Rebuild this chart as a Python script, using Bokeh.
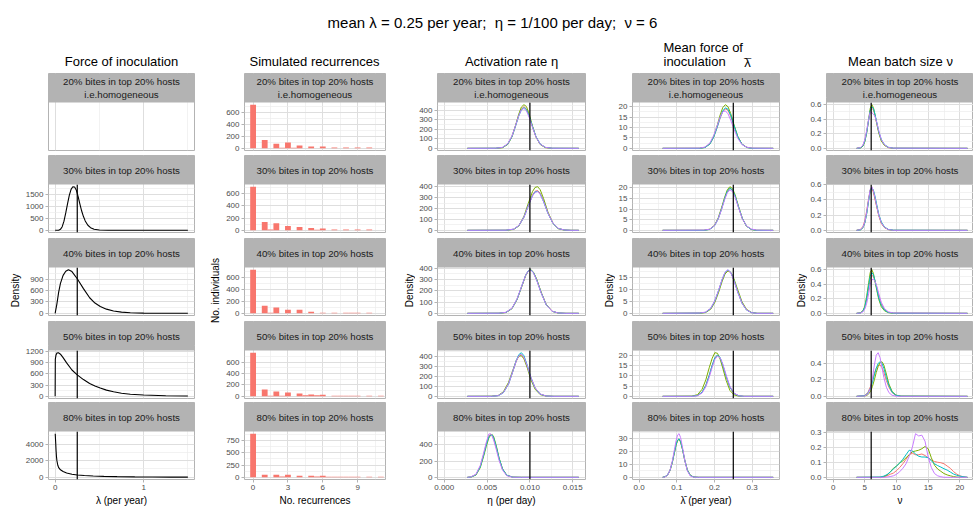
import math
from bokeh.plotting import figure
from bokeh.layouts import column, row
from bokeh.models import Range1d, FixedTicker, Grid, Label, LinearAxis
from bokeh.embed import file_html
from bokeh.resources import INLINE
from bokeh.core.properties import value

FONT = "Liberation Sans"

# ---------------- texts ----------------
MAIN_TITLE = "mean λ = 0.25 per year;\u00a0\u00a0η = 1/100 per day;\u00a0\u00a0ν = 6"
COL_TITLES = ["Force of inoculation", "Simulated recurrences", "Activation rate η", "", "Mean batch size ν"]
COL4_TITLE_LINES = ["Mean force of", "inoculation", "λ", "¯"]
STRIPS = ["20% bites in top 20% hosts\ni.e.homogeneous",
          "30% bites in top 20% hosts",
          "40% bites in top 20% hosts",
          "50% bites in top 20% hosts",
          "80% bites in top 20% hosts"]
X_LABELS = ["λ (per year)", "No. recurrences", "η (per day)", "λ\u0304 (per year)", "ν"]
Y_LABELS = ["Density", "No. individuals", "Density", "Density", "Density"]
VLINES = [0.25, None, 0.010, 0.25, 6]
CHAIN_COLORS = ["#F8766D", "#7CAE00", "#00BFC4", "#C77CFF"]
BAR_COLOR = "#F8766D"

# ---------------- x axis ticks ----------------
X_LIMITS = [(0, 1.5), None, (0, 0.0157), (0, 0.355), (0, 21.1)]
X2_RANGE = (-0.74, 11.4)
X_TICKS = [[0, 1], [0, 3, 6, 9], [0, 0.005, 0.010, 0.015], [0, 0.1, 0.2, 0.3], [0, 5, 10, 15, 20]]
X_TICK_LABELS = [["0", "1"], ["0", "3", "6", "9"], ["0.000", "0.005", "0.010", "0.015"],
                 ["0.0", "0.1", "0.2", "0.3"], ["0", "5", "10", "15", "20"]]
X_MINOR = [[0.5, 1.5], [1.5, 4.5, 7.5, 10.5], [0.0025, 0.0075, 0.0125], [0.05, 0.15, 0.25, 0.35],
           [2.5, 7.5, 12.5, 17.5]]

# ---------------- column 1: force of inoculation ----------------
FOI_X_30 = [0, 0.04, 0.06, 0.08, 0.10, 0.12, 0.14, 0.16, 0.18, 0.20, 0.22, 0.24, 0.26, 0.28, 0.30, 0.32, 0.34, 0.37, 0.40, 0.44, 0.50, 0.60, 1.50]
FOI_Y_30 = [0, 5, 40, 150, 380, 720, 1100, 1450, 1700, 1810, 1800, 1660, 1400, 1090, 800, 570, 390, 210, 110, 45, 12, 2, 0]
FOI_X_40 = [0, 0.02, 0.04, 0.06, 0.09, 0.12, 0.15, 0.19, 0.25, 0.32, 0.39, 0.45, 0.51, 0.58, 0.66, 0.75, 0.85, 1.0, 1.2, 1.5]
FOI_Y_40 = [0, 250, 560, 790, 1000, 1110, 1150, 1100, 910, 650, 410, 270, 180, 110, 60, 32, 16, 5, 1, 0]
FOI_X_50 = [0, 0.002, 0.01, 0.02, 0.037, 0.06, 0.09, 0.13, 0.19, 0.25, 0.32, 0.39, 0.45, 0.51, 0.58, 0.66, 0.75, 0.85, 1.0, 1.25, 1.5]
FOI_Y_50 = [0, 980, 1100, 1150, 1160, 1120, 1030, 890, 700, 570, 445, 340, 275, 220, 165, 120, 80, 55, 35, 17, 9]
FOI_X_80 = [0.001, 0.004, 0.007, 0.01, 0.015, 0.02, 0.03, 0.04, 0.06, 0.09, 0.13, 0.19, 0.25, 0.33, 0.43, 0.55, 0.7, 0.9, 1.1, 1.3, 1.5]
FOI_Y_80 = [5240, 4600, 4000, 3300, 2500, 2000, 1450, 1170, 900, 700, 520, 370, 280, 210, 158, 115, 80, 52, 38, 27, 20]

# ---------------- column 2: simulated recurrences ----------------
REC_X = [0, 0.5, 1, 1.5, 2, 2.5, 3, 3.5, 4, 4.5, 5, 5.5, 6, 6.5, 7, 7.5, 8, 8.5, 9, 9.5, 10, 10.5, 11]
REC_20 = [729, 0, 140, 0, 76, 8, 97, 8, 47, 0, 32, 0, 30, 0, 15, 0, 14, 0, 14, 0, 14, 0, 0]
REC_30 = [716, 0, 135, 12, 118, 0, 70, 0, 55, 0, 38, 10, 28, 0, 14, 0, 14, 0, 14, 0, 14, 0, 0]
REC_40 = [724, 0, 124, 11, 97, 0, 59, 0, 59, 0, 27, 0, 11, 0, 8, 0, 8, 8, 8, 0, 8, 0, 0]
REC_50 = [765, 0, 119, 11, 85, 11, 68, 0, 51, 17, 34, 17, 28, 0, 11, 11, 11, 11, 11, 0, 11, 0, 11]
REC_80 = [888, 0, 52, 0, 52, 18, 52, 0, 33, 0, 33, 18, 33, 12, 12, 12, 12, 12, 12, 0, 12, 0, 12]

# ---------------- column 3: activation rate eta (4 chains: R, G, C, P) ----------------
ETA_X_20 = [0.0027, 0.0060, 0.0068, 0.0074, 0.0079, 0.0083, 0.0087, 0.0090, 0.0093, 0.0096, 0.0099, 0.0103, 0.0107, 0.0112, 0.0118, 0.0126, 0.0157]
ETA_20_R = [0, 0, 9, 45, 125, 232, 350, 415, 440, 415, 345, 228, 122, 43, 9, 0, 0]
ETA_20_G = [0, 0, 6, 40, 120, 235, 360, 435, 460, 440, 365, 235, 120, 40, 7, 0, 0]
ETA_20_C = [0, 1, 9, 44, 122, 228, 342, 405, 430, 408, 345, 230, 125, 45, 10, 1, 0]
ETA_20_P = [0, 1, 10, 47, 128, 233, 345, 405, 420, 395, 330, 222, 120, 44, 10, 1, 0]
ETA_X_30 = [0.0027, 0.0072, 0.0081, 0.0087, 0.0093, 0.0098, 0.0103, 0.0106, 0.0109, 0.0112, 0.0116, 0.0121, 0.0127, 0.0133, 0.0140, 0.0148, 0.0157]
ETA_30_R = [0, 1, 10, 42, 120, 225, 322, 358, 365, 340, 268, 160, 64, 18, 3, 0, 0]
ETA_30_G = [0, 0, 8, 40, 128, 245, 355, 393, 400, 372, 290, 168, 62, 15, 2, 0, 0]
ETA_30_C = [0, 1, 10, 42, 120, 222, 318, 352, 358, 333, 262, 156, 62, 17, 3, 0, 0]
ETA_30_P = [0, 1, 11, 44, 121, 222, 315, 348, 355, 330, 262, 158, 63, 18, 3, 0, 0]
ETA_X_40 = [0.0027, 0.0064, 0.0072, 0.0079, 0.0085, 0.0090, 0.0095, 0.0098, 0.0101, 0.0104, 0.0108, 0.0113, 0.0119, 0.0126, 0.0133, 0.0142, 0.0157]
ETA_40_R = [0, 1, 8, 44, 125, 230, 336, 375, 386, 365, 297, 187, 78, 19, 3, 0, 0]
ETA_40_G = [0, 0, 7, 41, 122, 228, 335, 376, 388, 368, 302, 190, 78, 17, 2, 0, 0]
ETA_40_C = [0, 1, 8, 43, 125, 232, 338, 377, 387, 365, 296, 185, 76, 18, 3, 0, 0]
ETA_40_P = [0, 1, 9, 45, 128, 234, 338, 376, 384, 361, 292, 183, 76, 18, 3, 0, 0]
ETA_X_50 = [0.0027, 0.0055, 0.0063, 0.0069, 0.0075, 0.0080, 0.0084, 0.0087, 0.0090, 0.0093, 0.0097, 0.0101, 0.0106, 0.0112, 0.0119, 0.0128, 0.0157]
ETA_50_R = [0, 0, 7, 38, 125, 250, 352, 405, 420, 390, 300, 190, 85, 22, 3, 0, 0]
ETA_50_G = [0, 1, 9, 45, 140, 262, 360, 405, 410, 378, 285, 170, 72, 17, 2, 0, 0]
ETA_50_C = [0, 0, 6, 36, 122, 250, 360, 420, 440, 410, 310, 192, 85, 22, 3, 0, 0]
ETA_50_P = [0, 0, 7, 38, 125, 252, 357, 410, 425, 395, 305, 192, 86, 23, 3, 0, 0]
ETA_X_80 = [0.0027, 0.0031, 0.0037, 0.0042, 0.0046, 0.0049, 0.0052, 0.0054, 0.0056, 0.0058, 0.0061, 0.0064, 0.0068, 0.0073, 0.0080, 0.0090, 0.0157]
ETA_80_R = [0, 3, 34, 135, 285, 410, 510, 530, 515, 465, 355, 228, 100, 24, 2, 0, 0]
ETA_80_G = [0, 2, 28, 118, 260, 380, 485, 520, 530, 495, 380, 240, 105, 26, 2, 0, 0]
ETA_80_C = [0, 3, 32, 128, 275, 400, 500, 522, 525, 480, 368, 236, 104, 26, 2, 0, 0]
ETA_80_P = [0, 4, 38, 145, 300, 430, 535, 540, 510, 450, 335, 210, 90, 20, 1, 0, 0]

# ---------------- column 4: mean force of inoculation ----------------
LBAR_X_20 = [0.0624, 0.160, 0.175, 0.188, 0.198, 0.207, 0.215, 0.222, 0.229, 0.236, 0.243, 0.252, 0.262, 0.273, 0.286, 0.300, 0.356]
LBAR_20_R = [0, 0, 0.5, 2.2, 5.5, 10, 14.5, 17.6, 19, 18.2, 15.5, 10.6, 5.5, 2.0, 0.5, 0, 0]
LBAR_20_G = [0, 0, 0.4, 2.2, 5.7, 10.8, 16, 19.6, 21, 20, 16.8, 11.3, 5.7, 2.0, 0.4, 0, 0]
LBAR_20_C = [0, 0, 0.4, 2.1, 5.4, 10, 14.7, 18, 19.5, 18.8, 16, 11, 5.6, 2.0, 0.4, 0, 0]
LBAR_20_P = [0, 0.1, 0.6, 2.6, 6.2, 10.8, 15, 17.6, 18, 16.6, 13.6, 9.2, 4.8, 1.8, 0.5, 0.1, 0]
LBAR_X_30 = [0.0624, 0.172, 0.187, 0.200, 0.210, 0.219, 0.227, 0.234, 0.241, 0.248, 0.255, 0.264, 0.274, 0.285, 0.298, 0.312, 0.356]
LBAR_30_R = [0, 0, 0.5, 2.2, 5.5, 10.2, 14.9, 18.2, 19.7, 18.8, 16, 10.8, 5.5, 2.0, 0.4, 0, 0]
LBAR_30_G = [0, 0, 0.5, 2.3, 5.8, 10.7, 15.5, 19, 20.5, 19.6, 16.6, 11.2, 5.7, 2.0, 0.4, 0, 0]
LBAR_30_C = [0, 0, 0.4, 2.1, 5.4, 10.1, 14.9, 18.3, 19.8, 19, 16.1, 10.9, 5.6, 2.0, 0.4, 0, 0]
LBAR_30_P = [0, 0.1, 0.5, 2.2, 5.4, 9.9, 14.4, 17.6, 19, 18.2, 15.5, 10.6, 5.5, 2.1, 0.6, 0.1, 0]
LBAR_X_40 = [0.0624, 0.160, 0.176, 0.190, 0.201, 0.211, 0.220, 0.228, 0.236, 0.244, 0.252, 0.262, 0.273, 0.285, 0.298, 0.313, 0.356]
LBAR_40_R = [0, 0.1, 0.4, 2.0, 5.1, 9.4, 13.8, 16.9, 18, 16.9, 13.8, 9.0, 4.4, 1.5, 0.3, 0, 0]
LBAR_40_G = [0, 0, 0.3, 1.7, 4.6, 8.8, 13.2, 16.5, 17.8, 17.1, 14.4, 9.8, 4.9, 1.7, 0.4, 0, 0]
LBAR_40_C = [0, 0.1, 0.4, 2.0, 5.2, 9.6, 14, 17.1, 18.2, 17.0, 13.8, 8.9, 4.3, 1.4, 0.3, 0, 0]
LBAR_40_P = [0, 0.1, 0.5, 2.1, 5.3, 9.7, 14.1, 17.2, 18.3, 16.9, 13.6, 8.8, 4.3, 1.5, 0.3, 0, 0]
LBAR_X_50 = [0.0624, 0.140, 0.155, 0.167, 0.177, 0.186, 0.194, 0.201, 0.208, 0.215, 0.222, 0.231, 0.241, 0.252, 0.264, 0.278, 0.356]
LBAR_50_R = [0, 0, 0.4, 2.0, 5.4, 10.3, 15.2, 18.7, 20, 18.7, 15.2, 9.6, 4.4, 1.4, 0.3, 0, 0]
LBAR_50_G = [0, 0.1, 0.8, 3.4, 8.0, 13.9, 18.6, 21.3, 21, 18.2, 13.8, 7.8, 2.9, 0.7, 0.1, 0, 0]
LBAR_50_C = [0, 0, 0.4, 2.0, 5.3, 10.2, 15.2, 18.8, 20.2, 18.9, 15.4, 9.8, 4.5, 1.4, 0.3, 0, 0]
LBAR_50_P = [0, 0, 0.3, 1.6, 4.6, 9.2, 14.2, 18.0, 19.6, 18.8, 15.8, 10.4, 4.9, 1.6, 0.3, 0, 0]
LBAR_X_80 = [0.0624, 0.068, 0.075, 0.082, 0.088, 0.093, 0.098, 0.102, 0.106, 0.110, 0.115, 0.121, 0.128, 0.136, 0.145, 0.158, 0.356]
LBAR_80_R = [0.1, 0.4, 1.8, 5.7, 12.0, 18.9, 25.6, 29.1, 30, 27.7, 21.8, 13.2, 5.5, 1.4, 0.2, 0, 0]
LBAR_80_G = [0, 0.3, 1.5, 5.2, 11.4, 18.3, 25, 28.6, 29.5, 27.5, 22, 13.6, 5.8, 1.5, 0.2, 0, 0]
LBAR_80_C = [0.1, 0.4, 1.7, 5.5, 11.8, 18.7, 25.4, 29, 30, 27.8, 22, 13.4, 5.6, 1.4, 0.2, 0, 0]
LBAR_80_P = [0, 0.2, 1.5, 5.5, 12.5, 20.5, 28.5, 33, 34, 31, 23.5, 13.5, 5.0, 1.0, 0.1, 0, 0]

# ---------------- column 5: mean batch size nu ----------------
NU_X_20 = [3.7, 4.3, 4.7, 5.0, 5.3, 5.6, 5.85, 6.1, 6.35, 6.6, 6.9, 7.2, 7.6, 8.1, 8.7, 9.5, 21.2]
NU_20_R = [0, 0.008, 0.04, 0.11, 0.23, 0.39, 0.51, 0.55, 0.53, 0.45, 0.34, 0.22, 0.11, 0.045, 0.012, 0.002, 0]
NU_20_G = [0, 0.005, 0.03, 0.09, 0.22, 0.40, 0.55, 0.60, 0.56, 0.46, 0.33, 0.21, 0.10, 0.04, 0.01, 0, 0]
NU_20_C = [0, 0.006, 0.035, 0.10, 0.22, 0.39, 0.52, 0.57, 0.55, 0.47, 0.35, 0.23, 0.12, 0.05, 0.015, 0.002, 0]
NU_20_P = [0, 0.01, 0.045, 0.12, 0.25, 0.40, 0.50, 0.49, 0.47, 0.44, 0.35, 0.24, 0.12, 0.05, 0.012, 0.002, 0]
NU_X_30 = [3.7, 4.3, 4.7, 5.0, 5.3, 5.6, 5.85, 6.1, 6.35, 6.6, 6.9, 7.2, 7.6, 8.1, 8.7, 9.5, 21.2]
NU_30_R = [0, 0.012, 0.05, 0.13, 0.26, 0.42, 0.53, 0.55, 0.50, 0.41, 0.30, 0.19, 0.09, 0.035, 0.01, 0, 0]
NU_30_G = [0, 0.006, 0.035, 0.10, 0.23, 0.40, 0.53, 0.56, 0.52, 0.43, 0.31, 0.20, 0.10, 0.04, 0.01, 0, 0]
NU_30_C = [0, 0.006, 0.035, 0.10, 0.22, 0.39, 0.52, 0.56, 0.53, 0.45, 0.33, 0.21, 0.11, 0.045, 0.012, 0.002, 0]
NU_30_P = [0, 0.008, 0.04, 0.11, 0.24, 0.41, 0.54, 0.575, 0.52, 0.43, 0.31, 0.20, 0.10, 0.04, 0.01, 0, 0]
NU_X_40 = [3.7, 4.3, 4.7, 5.0, 5.3, 5.6, 5.85, 6.1, 6.35, 6.6, 6.9, 7.2, 7.6, 8.1, 8.7, 9.5, 21.2]
NU_40_R = [0, 0.005, 0.03, 0.08, 0.19, 0.34, 0.47, 0.52, 0.51, 0.45, 0.35, 0.24, 0.13, 0.055, 0.015, 0.003, 0]
NU_40_G = [0, 0.006, 0.035, 0.10, 0.24, 0.42, 0.56, 0.60, 0.55, 0.44, 0.31, 0.19, 0.09, 0.035, 0.01, 0, 0]
NU_40_C = [0, 0.005, 0.03, 0.09, 0.21, 0.38, 0.51, 0.56, 0.53, 0.45, 0.33, 0.21, 0.11, 0.045, 0.012, 0.002, 0]
NU_40_P = [0, 0.004, 0.02, 0.06, 0.14, 0.27, 0.40, 0.46, 0.47, 0.44, 0.37, 0.27, 0.15, 0.065, 0.02, 0.004, 0]
NU_X_50 = [3.7, 5.0, 5.5, 5.9, 6.2, 6.5, 6.8, 7.1, 7.4, 7.7, 8.0, 8.4, 8.8, 9.3, 9.9, 10.7, 21.2]
NU_50_R = [0, 0.01, 0.05, 0.12, 0.20, 0.28, 0.34, 0.375, 0.38, 0.35, 0.29, 0.19, 0.11, 0.045, 0.012, 0.002, 0]
NU_50_G = [0, 0.004, 0.02, 0.06, 0.12, 0.20, 0.29, 0.36, 0.41, 0.42, 0.38, 0.27, 0.15, 0.06, 0.015, 0.002, 0]
NU_50_C = [0, 0.008, 0.04, 0.10, 0.17, 0.26, 0.34, 0.40, 0.42, 0.40, 0.34, 0.23, 0.13, 0.05, 0.013, 0.002, 0]
NU_50_P = [0, 0.005, 0.03, 0.10, 0.22, 0.38, 0.50, 0.53, 0.47, 0.35, 0.23, 0.11, 0.045, 0.012, 0.002, 0, 0]
NU_X_80 = [3.7, 7.4, 8.0, 8.5, 9.0, 9.5, 10.0, 10.5, 11.0, 11.5, 12.0, 12.5, 13.0, 13.5, 14.0, 14.5, 15.0, 15.5, 16.0, 16.5, 17.0, 17.5, 18.0, 18.5, 19.0, 19.5, 20.0, 20.5, 21.2]
NU_80_R = [0, 0, 0.003, 0.01, 0.02, 0.028, 0.045, 0.065, 0.09, 0.12, 0.15, 0.16, 0.15, 0.15, 0.155, 0.145, 0.13, 0.115, 0.105, 0.10, 0.097, 0.09, 0.075, 0.06, 0.038, 0.022, 0.01, 0.004, 0]
NU_80_G = [0, 0, 0.005, 0.015, 0.035, 0.06, 0.075, 0.095, 0.11, 0.13, 0.15, 0.17, 0.175, 0.18, 0.19, 0.205, 0.19, 0.13, 0.08, 0.055, 0.04, 0.025, 0.016, 0.01, 0.005, 0.002, 0, 0, 0]
NU_80_C = [0, 0.002, 0.008, 0.018, 0.035, 0.055, 0.075, 0.095, 0.12, 0.15, 0.18, 0.175, 0.155, 0.14, 0.135, 0.135, 0.13, 0.11, 0.09, 0.078, 0.068, 0.057, 0.048, 0.035, 0.022, 0.014, 0.008, 0.004, 0]
NU_80_P = [0, 0, 0, 0.002, 0.005, 0.01, 0.02, 0.037, 0.06, 0.09, 0.14, 0.2, 0.29, 0.275, 0.28, 0.24, 0.135, 0.065, 0.025, 0.01, 0.004, 0, 0, 0, 0, 0, 0, 0, 0]

# ---------------- y axis ticks per panel [col][row] ----------------
Y_TICKS = [
    [[], [0, 500, 1000, 1500], [0, 300, 600, 900], [0, 300, 600, 900, 1200], [0, 2000, 4000]],
    [[0, 200, 400, 600]] * 4 + [[0, 250, 500, 750]],
    [[0, 100, 200, 300, 400]] * 4 + [[0, 200, 400]],
    [[0, 5, 10, 15, 20], [0, 5, 10, 15, 20], [0, 5, 10, 15], [0, 5, 10, 15, 20], [0, 10, 20, 30]],
    [[0, 0.2, 0.4, 0.6]] * 3 + [[0, 0.2, 0.4], [0, 0.1, 0.2, 0.3]],
]
Y_TICK_LABELS = [
    [[], ["0", "500", "1000", "1500"], ["0", "300", "600", "900"], ["0", "300", "600", "900", "1200"], ["0", "2000", "4000"]],
    [["0", "200", "400", "600"]] * 4 + [["0", "250", "500", "750"]],
    [["0", "100", "200", "300", "400"]] * 4 + [["0", "200", "400"]],
    [["0", "5", "10", "15", "20"], ["0", "5", "10", "15", "20"], ["0", "5", "10", "15"], ["0", "5", "10", "15", "20"], ["0", "10", "20", "30"]],
    [["0.0", "0.2", "0.4", "0.6"]] * 3 + [["0.0", "0.2", "0.4"], ["0.0", "0.1", "0.2", "0.3"]],
]
Y_MINOR = [
    [[], [250, 750, 1250, 1750], [150, 450, 750, 1050], [150, 450, 750, 1050, 1350], [1000, 3000, 5000]],
    [[100, 300, 500, 700]] * 4 + [[125, 375, 625, 875]],
    [[50, 150, 250, 350, 450]] * 4 + [[100, 300, 500]],
    [[2.5, 7.5, 12.5, 17.5, 22.5], [2.5, 7.5, 12.5, 17.5, 22.5], [2.5, 7.5, 12.5, 17.5], [2.5, 7.5, 12.5, 17.5, 22.5], [5, 15, 25, 35]],
    [[0.1, 0.3, 0.5, 0.7]] * 3 + [[0.1, 0.3, 0.5], [0.05, 0.15, 0.25, 0.35]],
]

# ---------------- layout (pixels) ----------------
LABEL_W = [22, 25, 25, 25, 22]       # strip holding the y-axis title
LABEL_X = [15, 17, 19, 19, 16]       # centre of y-axis title inside that strip
PANEL_LEFT = [26, 20, 22, 17, 19]    # room for tick labels
COL_FRAME = [146, 142, 148, 147, 147]
COL_RIGHT = [4, 5, 5, 6, 0]
ROW_H = [82, 83, 83, 81, 106]
HEADER_H = 73
BODY_H = 435
YLAB_Y = 218
FRAME_H = 77
STRIP_PX = 29
PANEL_PX = 48
COL_TITLE_X = [121, 314, 511, None, 900]

STRIP_FILL = "#B3B3B3"
BORDER = "#B3B3B3"
GRID_MAJ = "#DEDEDE"
GRID_MIN = "#EDEDED"
TICK_COL = "#B3B3B3"
TICK_TXT = "#4D4D4D"


def padded(lo, hi):
    d = hi - lo
    return lo - 0.05 * d, hi + 0.05 * d


def make_panel(ci, ri, xr, yr):
    x_lo, x_hi = xr
    y_lo, y_hi = yr
    y_top = y_hi + (y_hi - y_lo) * STRIP_PX / PANEL_PX
    last = ri == 4
    p = figure(width=PANEL_LEFT[ci] + COL_FRAME[ci] + COL_RIGHT[ci], height=ROW_H[ri],
               x_range=Range1d(x_lo, x_hi), y_range=Range1d(y_lo, y_top),
               x_axis_type=None, y_axis_type=None, title=None,
               toolbar_location=None, output_backend="svg",
               min_border_left=PANEL_LEFT[ci], min_border_right=COL_RIGHT[ci],
               min_border_top=0, min_border_bottom=ROW_H[ri] - FRAME_H)
    p.outline_line_color = BORDER
    p.outline_line_width = 1
    p.background_fill_color = "white"
    p.border_fill_color = "white"

    p.add_layout(Grid(dimension=0, ticker=FixedTicker(ticks=X_TICKS[ci], minor_ticks=X_MINOR[ci]),
                      grid_line_color=GRID_MAJ, grid_line_width=1,
                      minor_grid_line_color=GRID_MIN, minor_grid_line_width=0.7))
    yt = [t for t in Y_TICKS[ci][ri] if t <= y_hi]
    ylab = Y_TICK_LABELS[ci][ri][:len(yt)]
    if yt:
        p.add_layout(Grid(dimension=1, ticker=FixedTicker(ticks=yt, minor_ticks=Y_MINOR[ci][ri]),
                          grid_line_color=GRID_MAJ, grid_line_width=1,
                          minor_grid_line_color=GRID_MIN, minor_grid_line_width=0.7))
    ya = LinearAxis(ticker=FixedTicker(ticks=yt), major_label_overrides=dict(zip(yt, ylab)),
                    axis_line_color=None, major_tick_line_color=TICK_COL, major_tick_out=3,
                    major_tick_in=0, minor_tick_line_color=None,
                    major_label_text_font=FONT, major_label_text_font_size="8px",
                    major_label_text_color=TICK_TXT, major_label_standoff=2)
    p.add_layout(ya, "left")
    if last:
        xa = LinearAxis(ticker=FixedTicker(ticks=X_TICKS[ci]),
                        major_label_overrides=dict(zip(X_TICKS[ci], X_TICK_LABELS[ci])),
                        axis_line_color=None, major_tick_line_color=TICK_COL, major_tick_out=3,
                        major_tick_in=0, minor_tick_line_color=None,
                        major_label_text_font=FONT, major_label_text_font_size="8px",
                        major_label_text_color=TICK_TXT, major_label_standoff=2,
                        axis_label=X_LABELS[ci], axis_label_text_font=FONT,
                        axis_label_text_font_size="10px", axis_label_text_font_style="normal",
                        axis_label_text_color="black", axis_label_standoff=2)
        p.add_layout(xa, "below")
    return p, (x_lo, x_hi, y_lo, y_hi, y_top)


def finish(p, geo, ri, vline):
    x_lo, x_hi, y_lo, y_hi, y_top = geo
    if vline is not None:
        p.segment(x0=[vline], y0=[y_lo], x1=[vline], y1=[y_hi], line_color="black", line_width=1.2)
    p.quad(left=[x_lo], right=[x_hi], bottom=[y_hi], top=[y_top], fill_color=STRIP_FILL, line_color=None)
    p.text(x=[(x_lo + x_hi) / 2], y=[(y_hi + y_top) / 2], text=[STRIPS[ri]],
           text_font=value(FONT), text_font_size="9.7px", text_align="center",
           text_baseline="middle", text_color="#1A1A1A", text_line_height=1.1)


def ylabel_fig(ci):
    f = figure(width=LABEL_W[ci], height=BODY_H, x_range=Range1d(0, LABEL_W[ci]),
               y_range=Range1d(0, BODY_H), x_axis_type=None, y_axis_type=None, title=None,
               toolbar_location=None, output_backend="svg", min_border=0)
    f.outline_line_color = None
    f.add_layout(Label(x=LABEL_X[ci], y=YLAB_Y, text=Y_LABELS[ci], angle=math.pi / 2,
                       text_align="center", text_baseline="middle", text_font=FONT,
                       text_font_size="10px", text_color="black"))
    return f


FOI_SERIES = [None, (FOI_X_30, FOI_Y_30), (FOI_X_40, FOI_Y_40), (FOI_X_50, FOI_Y_50), (FOI_X_80, FOI_Y_80)]
REC_SERIES = [REC_20, REC_30, REC_40, REC_50, REC_80]
ETA_SERIES = [(ETA_X_20, [ETA_20_R, ETA_20_G, ETA_20_C, ETA_20_P]),
              (ETA_X_30, [ETA_30_R, ETA_30_G, ETA_30_C, ETA_30_P]),
              (ETA_X_40, [ETA_40_R, ETA_40_G, ETA_40_C, ETA_40_P]),
              (ETA_X_50, [ETA_50_R, ETA_50_G, ETA_50_C, ETA_50_P]),
              (ETA_X_80, [ETA_80_R, ETA_80_G, ETA_80_C, ETA_80_P])]
LBAR_SERIES = [(LBAR_X_20, [LBAR_20_R, LBAR_20_G, LBAR_20_C, LBAR_20_P]),
               (LBAR_X_30, [LBAR_30_R, LBAR_30_G, LBAR_30_C, LBAR_30_P]),
               (LBAR_X_40, [LBAR_40_R, LBAR_40_G, LBAR_40_C, LBAR_40_P]),
               (LBAR_X_50, [LBAR_50_R, LBAR_50_G, LBAR_50_C, LBAR_50_P]),
               (LBAR_X_80, [LBAR_80_R, LBAR_80_G, LBAR_80_C, LBAR_80_P])]
NU_SERIES = [(NU_X_20, [NU_20_R, NU_20_G, NU_20_C, NU_20_P]),
             (NU_X_30, [NU_30_R, NU_30_G, NU_30_C, NU_30_P]),
             (NU_X_40, [NU_40_R, NU_40_G, NU_40_C, NU_40_P]),
             (NU_X_50, [NU_50_R, NU_50_G, NU_50_C, NU_50_P]),
             (NU_X_80, [NU_80_R, NU_80_G, NU_80_C, NU_80_P])]

cols = [[] for _ in range(5)]
for ri in range(5):
    # column 1
    xr = padded(*X_LIMITS[0])
    s = FOI_SERIES[ri]
    yr = padded(0, max(s[1])) if s else (0, 1)
    p, geo = make_panel(0, ri, xr, yr)
    if s:
        p.line(s[0], s[1], line_color="black", line_width=1.1)
        finish(p, geo, ri, VLINES[0])
    else:
        finish(p, geo, ri, None)
    cols[0].append(p)
    # column 2
    counts = REC_SERIES[ri]
    p, geo = make_panel(1, ri, X2_RANGE, padded(0, max(counts)))
    p.vbar(x=REC_X, top=counts, bottom=0, width=0.5, fill_color=BAR_COLOR, line_color=None)
    finish(p, geo, ri, None)
    cols[1].append(p)
    # columns 3-5
    for ci, series in ((2, ETA_SERIES), (3, LBAR_SERIES), (4, NU_SERIES)):
        xs, chains = series[ri]
        ymax = max(max(c) for c in chains)
        p, geo = make_panel(ci, ri, padded(*X_LIMITS[ci]), padded(0, ymax))
        for c, col in zip(chains, CHAIN_COLORS):
            p.line(xs, c, line_color=col, line_width=1)
        finish(p, geo, ri, VLINES[ci])
        cols[ci].append(p)

# header with titles
hdr = figure(width=973, height=HEADER_H, x_range=Range1d(0, 973), y_range=Range1d(0, HEADER_H),
             x_axis_type=None, y_axis_type=None, title=None, toolbar_location=None,
             output_backend="svg", min_border=0)
hdr.outline_line_color = None
hdr.add_layout(Label(x=492, y=HEADER_H - 22, text=MAIN_TITLE, text_align="center",
                     text_baseline="middle", text_font=FONT, text_font_size="15px", text_color="black"))
for ci, t in enumerate(COL_TITLES):
    if COL_TITLE_X[ci] is not None:
        hdr.add_layout(Label(x=COL_TITLE_X[ci], y=HEADER_H - 61, text=t, text_align="center",
                             text_baseline="middle", text_font=FONT, text_font_size="13px",
                             text_color="black"))
hdr.add_layout(Label(x=663, y=HEADER_H - 47, text=COL4_TITLE_LINES[0], text_align="left",
                     text_baseline="middle", text_font=FONT, text_font_size="13px", text_color="black"))
hdr.add_layout(Label(x=663, y=HEADER_H - 61, text=COL4_TITLE_LINES[1], text_align="left",
                     text_baseline="middle", text_font=FONT, text_font_size="13px", text_color="black"))
hdr.add_layout(Label(x=747, y=HEADER_H - 62, text=COL4_TITLE_LINES[2], text_align="center",
                     text_baseline="middle", text_font=FONT, text_font_size="13px", text_color="black"))
hdr.add_layout(Label(x=747, y=HEADER_H - 63, text=COL4_TITLE_LINES[3], text_align="center",
                     text_baseline="middle", text_font=FONT, text_font_size="13px", text_color="black"))

blocks = [row([ylabel_fig(ci), column(cols[ci], spacing=0)], spacing=0) for ci in range(5)]
layout = column([hdr, row(blocks, spacing=0)], spacing=0)
open("out.html", "w").write(file_html(layout, INLINE))
